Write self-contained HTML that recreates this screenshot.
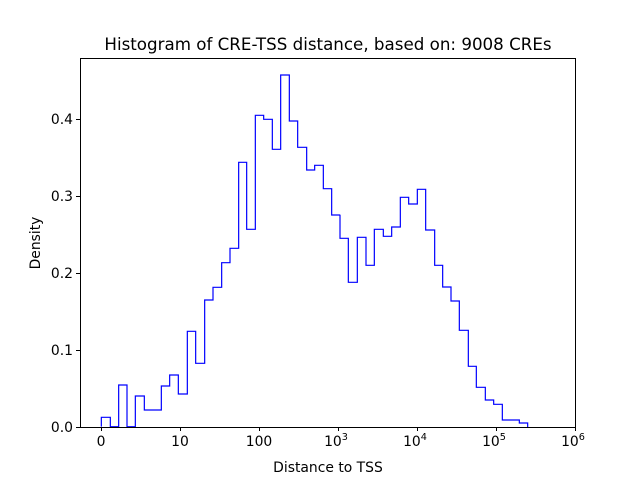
<!DOCTYPE html>
<html><head><style>body{margin:0;background:#fff}svg{display:block}text{font-family:"DejaVu Sans","Liberation Sans",sans-serif;fill:#000}</style></head>
<body>
<svg width="640" height="480" viewBox="0 0 640 480" xmlns="http://www.w3.org/2000/svg">
<rect width="640" height="480" fill="#fff"/>
<g transform="translate(90,60) scale(0.333333)" fill="none" stroke="#0000ff">
<path vector-effect="non-scaling-stroke" stroke-width="1.2" d="M34,1100 V1072 H61 V1100 H86 V975 H111 V1100 H136 V1008 H163 V1050 H214 V978 H239 V945 H265 V1002 H292 V814 H317 V910 H344 V720 H369 V682 H395 V608 H420 V565 H446 V307 H470 V508 H496 V166 H521 V178 H547 V268 H572 V45 H598 V183 H623 V262 H650 V330 H674 V316 H700 V386 H725 V465 H751"/>
</g>
<g transform="translate(330,150) scale(0.333333)" fill="none" stroke="#0000ff">
<path vector-effect="non-scaling-stroke" stroke-width="1.2" d="M30,195 V265 H55 V397 H82 V262 H108 V346 H133 V238 H160 V259 H185 V231 H211 V142 H236 V162 H262 V118 H287 V240 H314 V346 H338 V411 H363 V453 H388 V541 H415 V649 H439 V712 H466 V750 H491 V763 H517 V810 H568 V819 H593 V831"/>
</g>
<rect x="80.5" y="58.5" width="495" height="369" fill="none" stroke="#000" stroke-width="1"/>
<g stroke="#000" stroke-width="1">
<line x1="101.5" y1="427" x2="101.5" y2="431"/>
<line x1="180.5" y1="427" x2="180.5" y2="431"/>
<line x1="259.5" y1="427" x2="259.5" y2="431"/>
<line x1="338.5" y1="427" x2="338.5" y2="431"/>
<line x1="417.5" y1="427" x2="417.5" y2="431"/>
<line x1="496.5" y1="427" x2="496.5" y2="431"/>
<line x1="575.5" y1="427" x2="575.5" y2="431"/>
<line x1="76" y1="427.5" x2="80" y2="427.5"/>
<line x1="76" y1="350.5" x2="80" y2="350.5"/>
<line x1="76" y1="273.5" x2="80" y2="273.5"/>
<line x1="76" y1="196.5" x2="80" y2="196.5"/>
<line x1="76" y1="119.5" x2="80" y2="119.5"/>
</g>
<g font-size="13.9" text-anchor="middle">
<text x="101" y="446">0</text>
<text x="180" y="446">10</text>
<text x="259" y="446">100</text>
<text x="336" y="446">10<tspan font-size="9.7" dy="-6">3</tspan></text>
<text x="415" y="446">10<tspan font-size="9.7" dy="-6">4</tspan></text>
<text x="494" y="446">10<tspan font-size="9.7" dy="-6">5</tspan></text>
<text x="573" y="446">10<tspan font-size="9.7" dy="-6">6</tspan></text>
</g>
<g font-size="13.9" text-anchor="end">
<text x="73" y="432">0.0</text>
<text x="73" y="355">0.1</text>
<text x="73" y="278">0.2</text>
<text x="73" y="201">0.3</text>
<text x="73" y="124">0.4</text>
</g>
<text x="328" y="472" font-size="13.9" text-anchor="middle">Distance to TSS</text>
<text x="40" y="243" font-size="13.9" text-anchor="middle" transform="rotate(-90 40 243)">Density</text>
<text x="328" y="50" font-size="16.7" text-anchor="middle">Histogram of CRE-TSS distance, based on: 9008 CREs</text>
</svg>
</body></html>
